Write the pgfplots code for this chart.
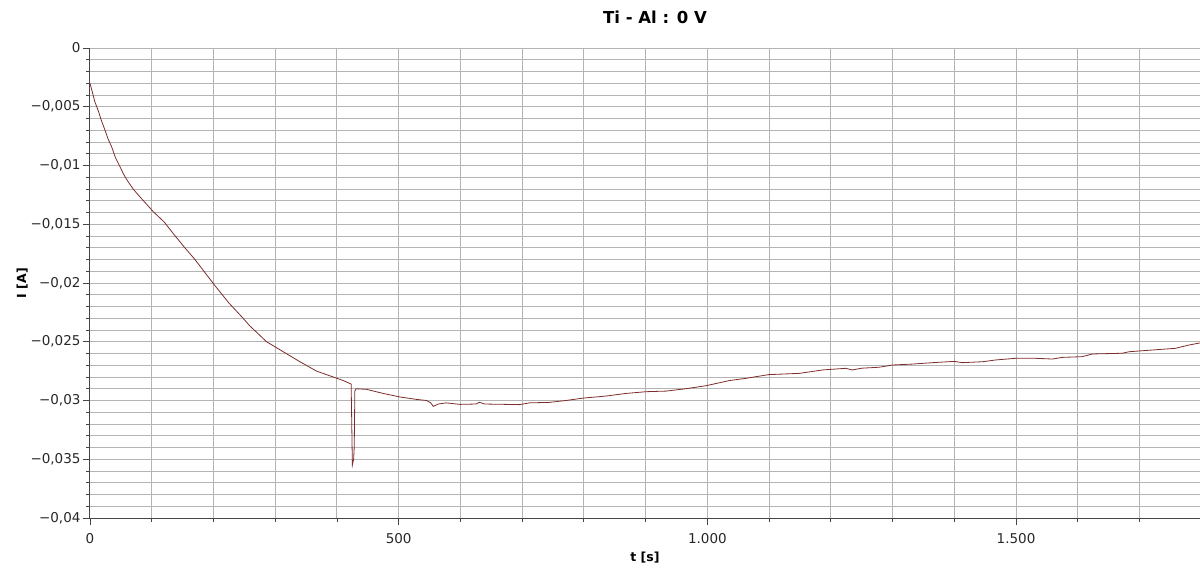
\documentclass[border=0pt]{standalone}
\usepackage{pgfplots}
\pgfplotsset{compat=1.18}
\usepackage{fontspec}
\setmainfont{DejaVu Sans}
\definecolor{gridgray}{RGB}{180,180,180}
\definecolor{axisgray}{RGB}{70,70,70}
\definecolor{curve}{RGB}{125,45,45}
\begin{document}
\begin{tikzpicture}
\begin{axis}[
  scale only axis, width=1110pt, height=470pt,
  xmin=0, xmax=1798, ymin=-0.04, ymax=0,
  axis x line*=bottom, axis y line*=left,
  axis line style={axisgray, line width=1pt},
  tick align=outside,
  xtick={0,500,1000,1500},
  xticklabels={0,500,1.000,1.500},
  minor xtick={100,200,300,400,600,700,800,900,1100,1200,1300,1400,1600,1700},
  ytick={-0.04,-0.035,-0.03,-0.025,-0.02,-0.015,-0.01,-0.005,0},
  yticklabels={{−0,04},{−0,035},{−0,03},{−0,025},{−0,02},{−0,015},{−0,01},{−0,005},{0}},
  minor y tick num=4,
  scaled y ticks=false,
  grid=both,
  major grid style={gridgray, line width=1pt},
  minor grid style={gridgray, line width=1pt},
  major tick length=7pt, minor tick length=4pt,
  every tick/.style={axisgray, line width=0.8pt},
  ticklabel style={font=\fontsize{13.5}{16}\selectfont, text=black!85},
  xticklabel style={yshift=-5pt},
  yticklabel style={xshift=1pt},
  title={Ti - Al : 0 V},
  title style={font=\bfseries\fontsize{16.5}{20}\selectfont, at={(0.509,1.053)}, anchor=center},
  xlabel={t [s]},
  xlabel style={font=\bfseries\fontsize{12.5}{15}\selectfont, at={(0.5,-0.085)}, anchor=center},
  ylabel={I [A]},
  ylabel style={font=\bfseries\fontsize{12.5}{15}\selectfont, at={(-0.061,0.5)}, anchor=center},
]
% measured current of the Ti-Al couple at 0 V
\addplot[curve, line width=0.8pt] coordinates {
  (0,-0.0030) (4,-0.0038) (8,-0.0046) (13.5,-0.00535) (18,-0.0061)
  (24,-0.00695) (29,-0.0077) (35,-0.0084) (41,-0.0093) (48.5,-0.0101)
  (55,-0.0108) (62,-0.0114) (70,-0.0120) (78,-0.0125) (90,-0.0132)
  (102,-0.0139) (120,-0.0148) (135,-0.0158) (152,-0.0169) (170,-0.0180)
  (186,-0.0191) (202,-0.0202) (225,-0.0217) (248,-0.0230)
  (259,-0.02366) (272,-0.0243) (286,-0.0250) (313,-0.02585) (340,-0.0267) (367,-0.0275)
  (394,-0.0280) (410,-0.0283) (423,-0.0286) (424,-0.0320) (425,-0.0355)
  (427,-0.0350) (428,-0.0340) (429,-0.0292) (431,-0.0290) (448,-0.02905)
  (475,-0.0294) (502,-0.0297) (528,-0.0299) (545,-0.0300) (552,-0.0302)
  (556,-0.0305) (564,-0.0303) (577,-0.0302) (599,-0.03033) (625,-0.0303)
  (631,-0.03015) (639,-0.0303) (696,-0.03035) (712,-0.0302) (744,-0.03016)
  (771,-0.0300) (798,-0.0298) (836,-0.02962) (868,-0.0294) (901,-0.02925)
  (933,-0.0292) (965,-0.0290) (998,-0.02874) (1036,-0.0283) (1063,-0.02811)
  (1099,-0.0278) (1149,-0.02769) (1187,-0.0274) (1224,-0.02726) (1235,-0.0274)
  (1250,-0.02725) (1278,-0.02717) (1300,-0.02698) (1332,-0.0269) (1365,-0.02678)
  (1400,-0.02667) (1413,-0.02678) (1446,-0.0267) (1467,-0.02655) (1499,-0.02641)
  (1532,-0.02641) (1559,-0.02647) (1575,-0.02633) (1607,-0.02627) (1624,-0.02604)
  (1672,-0.02598) (1683,-0.02585) (1737,-0.02564) (1758,-0.02556) (1780,-0.02528)
  (1798,-0.02510)
};
\end{axis}
\pgfresetboundingbox
\path (-90pt,-50pt) rectangle (1110pt,518pt);
\end{tikzpicture}
\end{document}
